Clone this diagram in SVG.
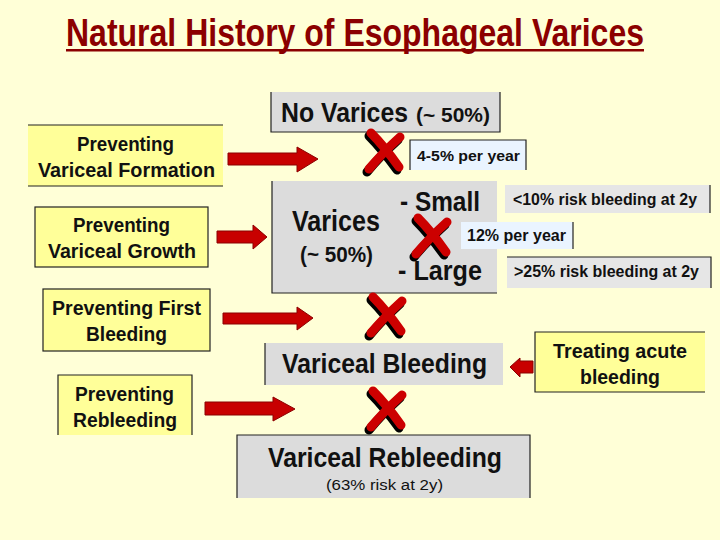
<svg xmlns="http://www.w3.org/2000/svg" width="720" height="540" viewBox="0 0 720 540">
<style>
text{font-family:"Liberation Sans",Arial,sans-serif;font-weight:bold;fill:#111}
.gray{fill:#DCDCDC}
.yel{fill:#FFFF99}
.blue{fill:#EAF4FF}
.ln{stroke:#222;stroke-width:1.2;fill:none}
.arrow{fill:#C80000;stroke:#8B0000;stroke-width:1}
.c{text-anchor:middle}
</style>
<defs>
<g id="cross">
<path d="M-14,-18 C-6,-10 4,2 14,16" stroke="#000" stroke-width="9" fill="none" transform="translate(-2,3)" stroke-linecap="round"/>
<path d="M15,-14 C4,-4 -6,6 -16,18" stroke="#000" stroke-width="9" fill="none" transform="translate(-2,3)" stroke-linecap="round"/>
<path d="M-14,-18 C-6,-10 4,2 14,16" stroke="#CC0000" stroke-width="9" fill="none" stroke-linecap="round"/>
<path d="M15,-14 C4,-4 -6,6 -16,18" stroke="#CC0000" stroke-width="9" fill="none" stroke-linecap="round"/>
</g>
</defs>
<rect width="720" height="540" fill="#FFFFD7"/>
<g id="title">
<text x="66" y="46" font-size="38" textLength="578" lengthAdjust="spacingAndGlyphs" style="fill:#8B0000">Natural History of Esophageal Varices</text>
<rect x="66" y="49" width="578" height="2.5" fill="#8B0000"/>
</g>
<g id="connectors">
<polygon class="arrow" points="228,153 297,153 297,147 318,159 297,172 297,165 228,165"/>
<polygon class="arrow" points="217,231 253,231 253,225 267,237 253,249 253,243 217,243"/>
<polygon class="arrow" points="223,313 297,313 297,307 313,318 297,330 297,324 223,324"/>
<polygon class="arrow" points="205,402 273,402 273,397 295,409 273,421 273,415 205,415"/>
<polygon class="arrow" points="533,361 520,361 520,358 510,367 520,377 520,373 533,373"/>
</g>
<g id="no-varices">
<rect class="gray" x="271" y="92" width="229" height="40"/>
<path class="ln" d="M271,92 V132 H500 V92"/>
<text x="281" y="122" font-size="28" textLength="127" lengthAdjust="spacingAndGlyphs">No Varices</text>
<text x="416" y="122" font-size="21" textLength="74" lengthAdjust="spacingAndGlyphs">(~ 50%)</text>
</g>
<g id="rate-4-5">
<rect class="blue" x="410" y="140" width="116" height="30"/>
<path class="ln" d="M410,170 V140 H526 V170"/>
<text x="417" y="161" font-size="15.5" textLength="103" lengthAdjust="spacingAndGlyphs">4-5% per year</text>
</g>
<g id="varices">
<rect class="gray" x="272" y="181" width="225" height="112"/>
<path class="ln" d="M272,181 V293 H497"/>
<text x="292" y="231" font-size="29" textLength="88" lengthAdjust="spacingAndGlyphs">Varices</text>
<text x="300" y="262" font-size="22" textLength="73" lengthAdjust="spacingAndGlyphs">(~ 50%)</text>
<text x="400" y="211" font-size="27" textLength="80" lengthAdjust="spacingAndGlyphs">- Small</text>
<text x="398" y="280" font-size="27" textLength="84" lengthAdjust="spacingAndGlyphs">- Large</text>
</g>
<g id="risk-small">
<rect fill="#E6E6E6" x="505" y="185" width="205" height="28"/>
<path class="ln" d="M710,185 V213"/>
<text x="513" y="205" font-size="16" textLength="184" lengthAdjust="spacingAndGlyphs">&lt;10% risk bleeding at 2y</text>
</g>
<g id="rate-12">
<rect class="blue" x="461" y="222" width="112" height="27"/>
<path class="ln" d="M573,222 V249"/>
<text x="467" y="241" font-size="16" textLength="99" lengthAdjust="spacingAndGlyphs">12% per year</text>
</g>
<g id="risk-large">
<rect fill="#E6E6E6" x="507" y="257" width="204" height="31"/>
<path class="ln" d="M507,257 H711 V288"/>
<text x="514" y="277" font-size="16" textLength="185" lengthAdjust="spacingAndGlyphs">&gt;25% risk bleeding at 2y</text>
</g>
<g id="prev-formation">
<rect class="yel" x="28" y="125" width="195" height="61"/>
<path class="ln" d="M28,125 H223 M28,186 H223"/>
<text x="77" y="151" font-size="20" textLength="97" lengthAdjust="spacingAndGlyphs">Preventing</text>
<text x="38" y="177" font-size="20" textLength="177" lengthAdjust="spacingAndGlyphs">Variceal Formation</text>
</g>
<g id="prev-growth">
<rect class="yel" x="35" y="207" width="173" height="60"/>
<rect class="ln" x="35" y="207" width="173" height="60"/>
<text x="73" y="232" font-size="20" textLength="97" lengthAdjust="spacingAndGlyphs">Preventing</text>
<text x="48" y="258" font-size="20" textLength="148" lengthAdjust="spacingAndGlyphs">Variceal Growth</text>
</g>
<g id="prev-first">
<rect class="yel" x="43" y="289" width="167" height="62"/>
<rect class="ln" x="43" y="289" width="167" height="62"/>
<text x="52" y="315" font-size="20" textLength="149" lengthAdjust="spacingAndGlyphs">Preventing First</text>
<text x="86" y="341" font-size="20" textLength="81" lengthAdjust="spacingAndGlyphs">Bleeding</text>
</g>
<g id="prev-rebleeding">
<rect class="yel" x="58" y="375" width="134" height="60"/>
<path class="ln" d="M58,435 V375 H192 V435"/>
<text x="75" y="401" font-size="20" textLength="99" lengthAdjust="spacingAndGlyphs">Preventing</text>
<text x="73" y="427" font-size="20" textLength="104" lengthAdjust="spacingAndGlyphs">Rebleeding</text>
</g>
<g id="variceal-bleeding">
<rect class="gray" x="265" y="343" width="238" height="42"/>
<path class="ln" d="M265,343 V385"/>
<text x="282" y="373" font-size="28" textLength="205" lengthAdjust="spacingAndGlyphs">Variceal Bleeding</text>
</g>
<g id="treating">
<rect class="yel" x="535" y="332" width="170" height="60"/>
<path class="ln" d="M705,332 H535 V392 H705"/>
<text x="553" y="358" font-size="20" textLength="134" lengthAdjust="spacingAndGlyphs">Treating acute</text>
<text x="580" y="384" font-size="20" textLength="80" lengthAdjust="spacingAndGlyphs">bleeding</text>
</g>
<g id="variceal-rebleeding">
<rect class="gray" x="237" y="435" width="293" height="63"/>
<path class="ln" d="M237,498 V435 H530 V498"/>
<text x="268" y="467" font-size="28" textLength="234" lengthAdjust="spacingAndGlyphs">Variceal Rebleeding</text>
<text x="326" y="490" font-size="15.5" textLength="117" lengthAdjust="spacingAndGlyphs" style="font-weight:normal">(63% risk at 2y)</text>
</g>
<g id="crosses">
<use href="#cross" x="385" y="151"/>
<use href="#cross" x="432" y="236"/>
<use href="#cross" x="387" y="315"/>
<use href="#cross" x="387" y="409"/>
</g>
</svg>
